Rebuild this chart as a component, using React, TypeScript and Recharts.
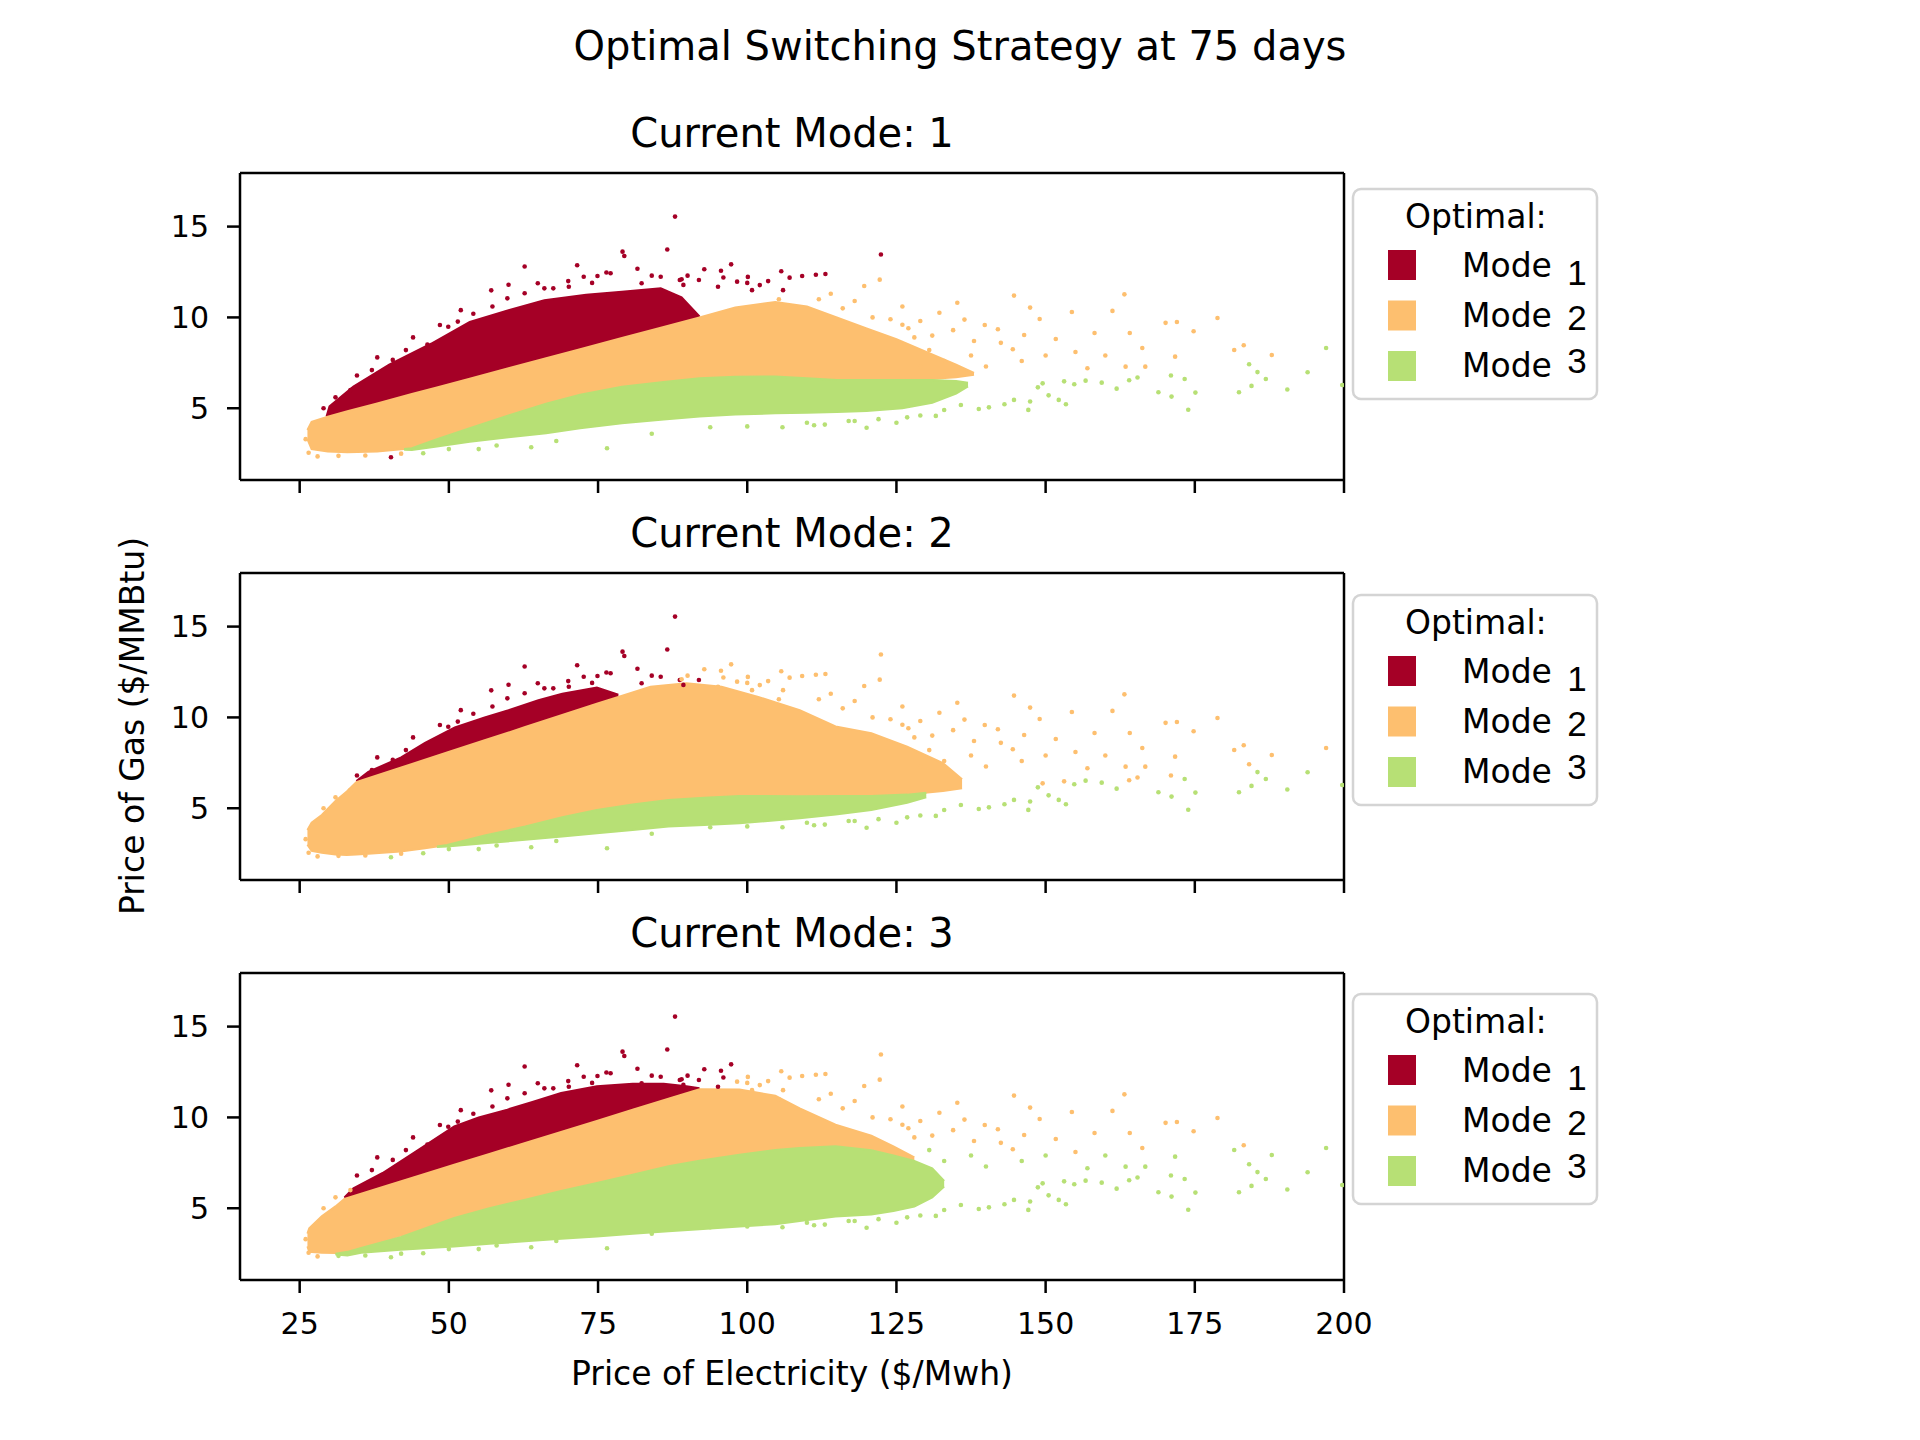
import React from "react";
import { Area, ComposedChart, ReferenceLine, Scatter, XAxis, YAxis } from "recharts";

// colours of the three modes (RdYlGn picks)
const MODE_COLORS = ["#a50026", "#fdbf6f", "#b7e075"];
const MODE_NAMES = ["1", "2", "3"];

const X_TICKS = [25, 50, 75, 100, 125, 150, 175, 200];
const Y_TICKS = [5, 10, 15];
const X_DOMAIN: [number, number] = [15, 200];
const Y_DOMAIN: [number, number] = [1.05, 17.95];

// dense clouds: [electricity price, gas low, gas high]
const P1_RED = [
  [29.5, 4.5, 4.55], [30, 4.57, 5.1], [34, 4.92, 6.19], [40, 5.44, 7.4],
  [47, 6.06, 8.55], [53.5, 6.63, 9.75], [60, 7.2, 10.4], [66, 7.73, 10.95],
  [73, 8.34, 11.25], [79, 8.87, 11.42], [85.5, 9.43, 11.6], [89, 9.74, 11.1],
  [92, 10.0, 10.05],
];
const P1_ORANGE = [
  [26.3, 3.3, 3.8], [27, 2.75, 4.25], [29.7, 2.62, 4.54], [33, 2.58, 4.83],
  [38, 2.62, 5.27], [43.8, 2.8, 5.78], [48, 3.3, 6.15], [53.5, 3.9, 6.63],
  [60, 4.6, 7.2], [66.3, 5.25, 7.75], [72, 5.75, 8.25], [79, 6.18, 8.87],
  [86, 6.45, 9.48], [92, 6.65, 10.0], [98, 6.73, 10.55], [104.7, 6.75, 10.85],
  [110, 6.65, 10.6], [115, 6.55, 10.0], [120, 6.55, 9.4], [125, 6.55, 8.8],
  [130, 6.6, 8.1], [135, 6.7, 7.4], [138, 6.85, 6.95],
];
const P1_GREEN = [
  [42.5, 2.72, 2.75], [43.8, 2.7, 2.8], [48, 2.9, 3.3], [53.5, 3.16, 3.9],
  [60, 3.4, 4.6], [66.3, 3.62, 5.25], [72, 3.9, 5.75], [79, 4.17, 6.18],
  [86, 4.38, 6.45], [92, 4.54, 6.65], [98, 4.65, 6.73], [104.7, 4.72, 6.75],
  [110, 4.75, 6.65], [115, 4.8, 6.55], [120, 4.85, 6.55], [126, 5.0, 6.55],
  [131, 5.3, 6.55], [135, 5.8, 6.5], [137, 6.2, 6.4],
];

const P2_RED = [
  [34.5, 6.44, 6.5], [36.5, 6.65, 7.0], [42, 7.24, 7.8], [46, 7.67, 8.6],
  [51, 8.2, 9.45], [56, 8.74, 10.0], [60, 9.16, 10.4], [65, 9.7, 10.95],
  [69, 10.13, 11.3], [74.8, 10.75, 11.65], [78.4, 11.13, 11.25],
];
const P2_ORANGE = [
  [26.3, 3.0, 3.8], [27, 2.65, 4.2], [28.7, 2.55, 4.63], [31, 2.45, 5.4],
  [32.9, 2.43, 5.92], [34.5, 2.45, 6.44], [36.5, 2.5, 6.65], [41.9, 2.62, 7.23],
  [46, 2.8, 7.67], [49.7, 2.98, 8.07], [56, 3.5, 8.74], [62.8, 3.99, 9.47],
  [69, 4.5, 10.13], [74.8, 4.91, 10.75], [78.4, 5.1, 11.13], [83.8, 5.4, 11.69],
  [89.8, 5.52, 11.88], [95.7, 5.62, 11.69], [101.7, 5.68, 11.14], [108.8, 5.66, 10.4],
  [114.8, 5.68, 9.5], [120.8, 5.68, 9.13], [126.8, 5.75, 8.39], [132.8, 5.95, 7.48],
  [136, 6.1, 6.6],
];
const P2_GREEN = [
  [48, 2.86, 2.9], [49.7, 2.89, 2.98], [56, 3.07, 3.5], [62.8, 3.26, 3.99],
  [69, 3.44, 4.5], [74.8, 3.62, 4.91], [80.8, 3.8, 5.2], [86.8, 3.99, 5.46],
  [92.8, 4.08, 5.58], [98.7, 4.17, 5.68], [108.8, 4.45, 5.66], [114.8, 4.65, 5.68],
  [120.8, 4.9, 5.68], [126.8, 5.3, 5.75], [130, 5.6, 5.85],
];

const P3_RED = [
  [32.5, 5.52, 5.6], [34, 5.67, 6.1], [38.9, 6.17, 6.94], [44.9, 6.78, 8.22],
  [50.9, 7.39, 9.51], [55, 7.8, 10.0], [59.8, 8.29, 10.43], [64, 8.72, 10.85],
  [68.8, 9.2, 11.34], [74.8, 9.81, 11.71], [80.8, 10.42, 11.85], [86, 10.95, 11.85],
  [89.8, 11.34, 11.71], [92, 11.55, 11.6],
];
const P3_ORANGE = [
  [26.3, 2.9, 3.6], [26.6, 2.6, 3.9], [28.7, 2.55, 4.56], [31, 2.54, 5.1],
  [32.5, 2.55, 5.52], [35.3, 2.81, 5.8], [40, 3.3, 6.28], [45, 3.8, 6.79],
  [50.9, 4.46, 7.39], [56.8, 5.0, 7.99], [62.8, 5.47, 8.6], [68.8, 5.95, 9.2],
  [74.8, 6.39, 9.81], [80.8, 6.85, 10.42], [86.8, 7.31, 11.03], [92, 7.62, 11.55],
  [98.7, 7.95, 11.53], [104.7, 8.2, 11.2], [108.8, 8.32, 10.5], [114.8, 8.41, 9.6],
  [120.8, 8.2, 9.0], [124.5, 7.9, 8.4], [128, 7.6, 7.8],
];
const P3_GREEN = [
  [31, 2.45, 2.5], [33, 2.4, 2.6], [35.3, 2.55, 2.81], [41.9, 2.72, 3.4],
  [50.9, 2.9, 4.46], [56.8, 3.04, 5.0], [62.8, 3.18, 5.47], [68.8, 3.32, 5.95],
  [74.8, 3.45, 6.39], [80.8, 3.59, 6.85], [86.8, 3.73, 7.31], [92, 3.85, 7.62],
  [98.7, 4.0, 7.95], [104.7, 4.12, 8.2], [108.8, 4.3, 8.32], [114.8, 4.55, 8.41],
  [120.8, 4.65, 8.2], [124.5, 4.85, 7.9], [128, 5.1, 7.6], [131, 5.6, 7.2],
  [133, 6.2, 6.5],
];

// sparse simulated prices outside the dense clouds (same paths in every panel)
const SPARSE_X = [
  87.9, 86.6, 79.1, 79.4, 62.7, 71.5, 97.3, 81.6, 92.8, 100.1, 105.7, 107.1, 57.1, 60.0, 48.5,
  34.6, 103.5, 95.6, 76.4, 40.3, 122.4, 122.2, 113.1, 111.5, 109.2, 66, 70, 74, 84, 89,
  52, 44, 38, 90, 96, 100, 106, 105.3, 29, 31,
  119.6, 144.7, 163.2, 161.2, 154.4, 147.4, 178.8, 170.1, 172.0, 174.8, 181.6, 183.2, 187.9, 197.0, 184.1,
  171.0, 171.7, 163.4, 166.7, 164.0, 165.4, 158.2, 164.1, 166.2, 155.0, 151.7, 149.0, 135.2, 132.2, 139.8,
  136.4, 142.0, 144.5, 146.4, 153.1, 149.5, 128, 130.5, 133, 137.5, 140, 142.5, 134.5, 138, 126,
  129, 146, 150, 157, 160, 26, 26.5, 28, 31.5,
  199.7, 193.9, 190.5, 186.9, 185.5, 184.5, 182.4, 175.1, 173.9, 173.3, 171.1, 168.9, 161.9, 159.4, 156.7,
  154.8, 152.2, 153.4, 150.5, 148.7, 147.4, 147.1, 144.7, 143.1, 140.5, 138.8, 135.8, 131.6, 126.8, 120.0,
  111.2, 45.7, 63.8, 76.5, 55, 93.8, 105.9, 113,
  // fringe of the upper edge
  33.5, 37.1, 40.6, 42.8, 46.4, 49.9, 51.5, 54.1, 57.3, 59.8, 62.7, 64.9, 67.5, 70.1, 72.6,
  74.9, 77.1, 82.3, 85.5, 88.7, 89.3, 91.9, 95.1, 98.3, 100.8, 102.1,
  // fringe of the lower edge and of the right-hand tail
  36, 42, 50, 58, 68, 84, 100, 110, 118,
  112, 116, 118, 121, 124, 127, 129, 131, 126, 114,
  117, 122, 125, 129, 133,
];
const SPARSE_Y = [
  15.55, 13.74, 13.62, 13.38, 12.8, 12.87, 12.92, 12.68, 12.65, 12.23, 12.54, 12.19, 11.49, 11.8, 9.58,
  6.8, 12.0, 12.57, 12.47, 2.3, 13.46, 12.08, 12.39, 12.35, 12.28, 11.6, 12.0, 11.9, 12.3, 12.1,
  10.4, 8.9, 7.8, 12.3, 12.2, 11.9, 11.5, 11.0, 5.0, 5.6,
  11.73, 11.2, 11.27, 10.36, 10.3, 10.54, 9.97, 9.7, 9.75, 9.24, 8.21, 8.47, 7.93, 8.32, 7.42,
  6.8, 7.84, 7.29, 7.29, 6.54, 6.69, 9.14, 9.14, 8.32, 8.1, 8.81, 9.91, 10.81, 10.26, 9.58,
  9.88, 9.35, 8.25, 9.03, 6.48, 6.37, 8.9, 8.2, 7.6, 7.9, 7.3, 8.6, 9.3, 8.7, 9.6,
  7.3, 7.6, 7.9, 7.2, 7.9, 3.3, 2.55, 2.35, 2.38,
  6.28, 6.98, 6.03, 6.61, 6.99, 6.23, 5.88, 5.86, 4.92, 6.61, 5.64, 5.88, 6.08, 6.41, 6.52,
  6.32, 5.46, 5.22, 5.71, 6.15, 5.37, 4.91, 5.46, 5.22, 5.05, 4.96, 5.18, 4.58, 4.5, 3.93,
  4.06, 2.52, 2.85, 2.8, 2.75, 3.95, 3.95, 4.1,
  6.0, 7.1, 7.66, 8.2, 8.5, 9.49, 9.77, 10.2, 10.6, 11.05, 11.33, 11.88, 11.6, 11.69, 12.24,
  12.28, 12.43, 11.88, 12.24, 12.06, 11.79, 12.06, 11.69, 11.97, 11.5, 11.78,
  2.4, 2.5, 2.75, 2.95, 3.2, 3.6, 4.0, 4.2, 4.3,
  11.0, 10.5, 10.9, 10.0, 9.9, 9.4, 9.8, 9.0, 10.6, 11.3,
  4.3, 4.4, 4.2, 4.6, 4.9,
];
// optimal mode of each sparse point, per current mode
const MODES_CUR1 = [
  1, 1, 1, 1, 1, 1, 1, 1, 1, 1, 1, 1, 1, 1, 1,
  1, 1, 1, 1, 1, 1, 2, 1, 1, 1, 1, 1, 1, 1, 1,
  1, 1, 1, 1, 1, 1, 1, 2, 1, 1,
  2, 2, 2, 2, 2, 2, 2, 2, 2, 2, 2, 2, 2, 3, 3,
  3, 2, 2, 2, 3, 3, 2, 2, 2, 2, 2, 2, 2, 2, 2,
  2, 2, 2, 2, 3, 3, 2, 2, 2, 2, 2, 2, 2, 2, 2,
  2, 2, 2, 2, 2, 2, 2, 2, 2,
  3, 3, 3, 3, 3, 3, 3, 3, 3, 3, 3, 3, 3, 3, 3,
  3, 3, 3, 3, 3, 3, 3, 3, 3, 3, 3, 3, 3, 3, 3,
  3, 3, 3, 3, 3, 3, 3, 3,
  1, 1, 1, 1, 1, 1, 1, 1, 1, 1, 1, 1, 1, 1, 1,
  1, 1, 1, 1, 1, 1, 1, 1, 1, 1, 1,
  2, 2, 3, 3, 3, 3, 3, 3, 3,
  2, 2, 2, 2, 2, 2, 2, 2, 2, 2,
  3, 3, 3, 3, 3,
];
const MODES_CUR2 = [
  1, 1, 1, 1, 1, 1, 2, 1, 2, 2, 2, 2, 1, 1, 1,
  1, 2, 2, 1, 3, 2, 2, 2, 2, 2, 1, 1, 1, 1, 2,
  1, 1, 1, 2, 2, 2, 2, 2, 2, 2,
  2, 2, 2, 2, 2, 2, 2, 2, 2, 2, 2, 2, 2, 2, 2,
  2, 2, 2, 2, 2, 2, 2, 2, 2, 2, 2, 2, 2, 2, 2,
  2, 2, 2, 2, 2, 2, 2, 2, 2, 2, 2, 2, 2, 2, 2,
  2, 2, 2, 2, 2, 2, 2, 2, 2,
  3, 3, 3, 3, 3, 3, 3, 3, 3, 3, 3, 3, 3, 3, 3,
  3, 3, 3, 3, 3, 3, 3, 3, 3, 3, 3, 3, 3, 3, 3,
  3, 3, 3, 3, 3, 3, 3, 3,
  2, 1, 1, 1, 1, 1, 1, 1, 1, 1, 1, 1, 1, 1, 1,
  1, 1, 1, 1, 1, 1, 1, 2, 2, 2, 2,
  2, 2, 3, 3, 3, 3, 3, 3, 3,
  2, 2, 2, 2, 2, 2, 2, 2, 2, 2,
  3, 3, 3, 3, 3,
];
const MODES_CUR3 = [
  1, 1, 1, 1, 1, 1, 1, 1, 1, 2, 2, 2, 1, 1, 1,
  1, 2, 1, 1, 3, 2, 2, 2, 2, 2, 1, 1, 1, 1, 1,
  1, 1, 1, 1, 1, 2, 2, 2, 2, 2,
  2, 2, 2, 2, 2, 2, 2, 2, 2, 2, 3, 2, 3, 3, 3,
  3, 3, 3, 3, 3, 3, 2, 2, 2, 2, 2, 2, 2, 2, 2,
  2, 2, 2, 2, 3, 3, 2, 3, 3, 3, 3, 2, 2, 2, 2,
  3, 3, 3, 3, 3, 2, 2, 2, 3,
  3, 3, 3, 3, 3, 3, 3, 3, 3, 3, 3, 3, 3, 3, 3,
  3, 3, 3, 3, 3, 3, 3, 3, 3, 3, 3, 3, 3, 3, 3,
  3, 3, 3, 3, 3, 3, 3, 3,
  2, 1, 1, 1, 1, 1, 1, 1, 1, 1, 1, 1, 1, 1, 1,
  1, 1, 1, 1, 1, 1, 1, 1, 2, 2, 2,
  3, 3, 3, 3, 3, 3, 3, 3, 3,
  2, 2, 2, 2, 2, 2, 2, 2, 2, 2,
  3, 3, 3, 3, 3,
];

const FONT = "DejaVu Sans";
const PLOT_LEFT = 240;
const PLOT_W = 1104;
const PLOT_H = 307;
const RIGHT_PAD = 60;

interface PanelProps {
  top: number;
  bands: number[][][];
  modes: number[];
  showXLabels: boolean;
}

function Dot(props: any) {
  return <circle cx={props.cx} cy={props.cy} r={2.3} fill={props.fill} />;
}

function Panel({ top, bands, modes, showXLabels }: PanelProps) {
  const xAxisH = showXLabels ? 80 : 20;
  const spine = { stroke: "#000", strokeWidth: 2.5 };
  return (
    <div style={{ position: "absolute", left: 0, top: top - 10 }}>
      <ComposedChart
        width={PLOT_LEFT + PLOT_W + RIGHT_PAD}
        height={10 + PLOT_H + xAxisH}
        margin={{ top: 10, right: RIGHT_PAD, left: 0, bottom: 0 }}
      >
        <XAxis
          dataKey="x"
          type="number"
          domain={X_DOMAIN}
          ticks={X_TICKS}
          allowDataOverflow
          height={xAxisH}
          axisLine={spine}
          tickLine={spine}
          tickSize={13}
          tickMargin={20}
          tickFormatter={(v: number) => (showXLabels ? String(v) : "")}
          tick={{ fill: "#000", fontSize: 30, fontFamily: FONT }}
        />
        <YAxis
          dataKey="y"
          type="number"
          domain={Y_DOMAIN}
          ticks={Y_TICKS}
          allowDataOverflow
          width={PLOT_LEFT}
          axisLine={spine}
          tickLine={spine}
          tickSize={13}
          tickMargin={18}
          tick={{ fill: "#000", fontSize: 30, fontFamily: FONT }}
        />
        {bands.map((band, i) => (
          <Area
            key={`band-${i}`}
            data={band.map(([x, lo, hi]) => ({ x, range: [lo, hi] }))}
            dataKey="range"
            type="linear"
            fill={MODE_COLORS[i]}
            fillOpacity={1}
            stroke={MODE_COLORS[i]}
            strokeWidth={2}
            dot={false}
            activeDot={false}
            isAnimationActive={false}
          />
        ))}
        {MODE_COLORS.map((color, i) => (
          <Scatter
            key={`pts-${i}`}
            data={SPARSE_X.map((x, k) => ({ x, y: SPARSE_Y[k], m: modes[k] })).filter(
              (p) => p.m === i + 1
            )}
            fill={color}
            shape={<Dot />}
            isAnimationActive={false}
          />
        ))}
        {/* top and right spines */}
        <ReferenceLine y={Y_DOMAIN[1]} stroke="#000" strokeWidth={2.5} />
        <ReferenceLine x={X_DOMAIN[1]} stroke="#000" strokeWidth={2.5} />
      </ComposedChart>
    </div>
  );
}

function Legend({ top }: { top: number }) {
  const swatchY = [61, 111.5, 162];
  const labelY = [87.7, 138.3, 188.3];
  const digitY = [96, 141, 183.7];
  return (
    <g>
      <rect
        x={1353}
        y={top}
        width={244}
        height={210}
        rx={8}
        fill="#fff"
        stroke="#d4d4d4"
        strokeWidth={2.5}
      />
      <text x={1405} y={top + 39} fontFamily={FONT} fontSize={33} fill="#000">
        Optimal:
      </text>
      {MODE_COLORS.map((c, i) => (
        <g key={i}>
          <rect x={1388} y={top + swatchY[i]} width={28} height={30} fill={c} />
          <text x={1462} y={top + labelY[i]} fontFamily={FONT} fontSize={33} fill="#000">
            Mode
          </text>
          <text
            x={1577}
            y={top + digitY[i]}
            textAnchor="middle"
            fontFamily="Liberation Sans"
            fontSize={35}
            fill="#000"
          >
            {MODE_NAMES[i]}
          </text>
        </g>
      ))}
    </g>
  );
}

const PANEL_TOPS = [173, 573, 973];
const LEGEND_TOPS = [189, 595, 994];
const PANEL_BANDS = [
  [P1_RED, P1_ORANGE, P1_GREEN],
  [P2_RED, P2_ORANGE, P2_GREEN],
  [P3_RED, P3_ORANGE, P3_GREEN],
];
const PANEL_MODES = [MODES_CUR1, MODES_CUR2, MODES_CUR3];

export default function App() {
  return (
    <div
      style={{
        position: "absolute",
        left: 0,
        top: 0,
        width: 1920,
        height: 1440,
        background: "#fff",
      }}
    >
      {PANEL_TOPS.map((t, i) => (
        <Panel
          key={i}
          top={t}
          bands={PANEL_BANDS[i]}
          modes={PANEL_MODES[i]}
          showXLabels={i === 2}
        />
      ))}
      <svg
        width={1920}
        height={1440}
        style={{ position: "absolute", left: 0, top: 0, pointerEvents: "none" }}
      >
        <text x={960} y={60} textAnchor="middle" fontFamily={FONT} fontSize={40} fill="#000">
          Optimal Switching Strategy at 75 days
        </text>
        {PANEL_TOPS.map((t, i) => (
          <text
            key={i}
            x={792}
            y={t - 26}
            textAnchor="middle"
            fontFamily={FONT}
            fontSize={40}
            fill="#000"
          >
            {`Current Mode: ${MODE_NAMES[i]}`}
          </text>
        ))}
        <text
          x={792}
          y={1385}
          textAnchor="middle"
          fontFamily={FONT}
          fontSize={33}
          fill="#000"
        >
          Price of Electricity ($/Mwh)
        </text>
        <text
          transform="translate(144 726) rotate(-90)"
          textAnchor="middle"
          fontFamily={FONT}
          fontSize={33}
          fill="#000"
        >
          Price of Gas ($/MMBtu)
        </text>
        {LEGEND_TOPS.map((t, i) => (
          <Legend key={i} top={t} />
        ))}
      </svg>
    </div>
  );
}
